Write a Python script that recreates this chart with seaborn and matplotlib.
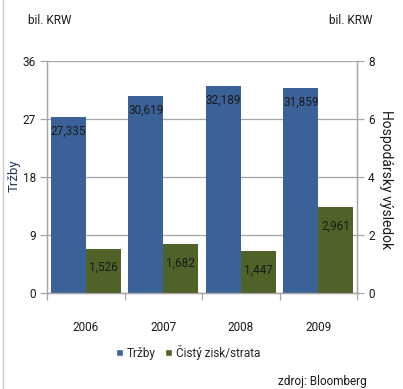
import matplotlib
matplotlib.use("Agg")
import matplotlib.pyplot as plt
import seaborn as sns
import pandas as pd
import numpy as np
from matplotlib.patches import Patch

years = ["2006", "2007", "2008", "2009"]
trzby = [27335, 30619, 32189, 31859]          # bil. KRW
cisty_zisk = [1526, 1682, 1447, 2961]         # bil. KRW
series = ["Tržby", "Čistý zisk/strata"]
left_ticks = [0, 9, 18, 27, 36]
right_ticks = [0, 2, 4, 6, 8]

BLUE = "#3A6198"
GREEN = "#4F6228"
GRID = "#A6A6A6"
TEXT = "#1A1A1A"
FS = 8.5

sns.set_theme(style="white")
plt.rcParams["font.family"] = ["Liberation Sans Narrow", "Roboto", "DejaVu Sans"]
plt.rcParams["font.size"] = FS

df_left = pd.DataFrame({
    "rok": years * 2,
    "séria": [series[0]] * 4 + [series[1]] * 4,
    "hodnota": [v / 1000 for v in trzby] + [np.nan] * 4,
})
df_right = pd.DataFrame({
    "rok": years * 2,
    "séria": [series[0]] * 4 + [series[1]] * 4,
    "hodnota": [np.nan] * 4 + [v / 1000 for v in cisty_zisk],
})

fig = plt.figure(figsize=(4.03, 3.89), dpi=100)
ax = fig.add_axes([0.1166, 0.2468, 0.7694, 0.5964])
ax2 = ax.twinx()

bar_kw = dict(x="rok", y="hodnota", hue="séria", hue_order=series,
              palette=[BLUE, GREEN], width=0.9, gap=0, dodge=True,
              legend=False, errorbar=None, saturation=1, linewidth=0,
              edgecolor="none")
sns.barplot(data=df_left, ax=ax, **bar_kw)
sns.barplot(data=df_right, ax=ax2, **bar_kw)

ax.set_ylim(0, 36)
ax2.set_ylim(0, 8)
ax.set_xlim(-0.5, 3.5)
ax.set_yticks(left_ticks)
ax2.set_yticks(right_ticks)
ax.set_yticklabels([str(t) for t in left_ticks])
ax2.set_yticklabels([str(t) for t in right_ticks])

ax.yaxis.grid(True, color=GRID, linewidth=0.9)
ax.set_axisbelow(True)
ax2.grid(False)
ax2.patch.set_visible(False)

for a in (ax, ax2):
    a.spines["top"].set_visible(False)
    for s in ["left", "right", "bottom"]:
        a.spines[s].set_color(GRID)
        a.spines[s].set_linewidth(0.9)
ax.tick_params(axis="y", which="both", left=True, length=5, width=0.9,
               color=GRID, labelsize=FS, labelcolor=TEXT, pad=3)
ax2.tick_params(axis="y", which="both", right=True, length=5, width=0.9,
                color=GRID, labelsize=FS, labelcolor=TEXT, pad=3)

# category separators on the x axis
ax.set_xticks(range(len(years)))
ax.set_xticklabels(years)
ax.set_xticks([-0.5, 0.5, 1.5, 2.5, 3.5], minor=True)
ax.tick_params(axis="x", which="major", bottom=False, length=0, labelsize=FS,
               labelcolor=TEXT, pad=20)
ax.tick_params(axis="x", which="minor", bottom=True, length=5, width=0.9,
               color=GRID)

ax.set_xlabel("")
ax2.set_xlabel("")
ax.set_ylabel("")
ax2.set_ylabel("")
fig.text(14 / 403, 1 - 176 / 389, "Tržby", color="#1F3864", fontsize=9.5,
         rotation=90, ha="center", va="center")
fig.text(386 / 403, 1 - 180 / 389, "Hospodársky výsledok", color=TEXT,
         fontsize=10, rotation=-90, ha="center", va="center")

# value labels
for bar, v in zip([p for p in ax.patches if p.get_height() > 0], trzby):
    ax.annotate(f"{v:,}", (bar.get_x() + bar.get_width() / 2, bar.get_height()),
                xytext=(0, -6), textcoords="offset points", ha="center",
                va="top", fontsize=FS, color=TEXT)
for bar, v in zip([p for p in ax2.patches if p.get_height() > 0], cisty_zisk):
    ax2.annotate(f"{v:,}", (bar.get_x() + bar.get_width() / 2, bar.get_height()),
                 xytext=(0, -9), textcoords="offset points", ha="center",
                 va="top", fontsize=FS, color=TEXT)

fig.text(28 / 403, 1 - 21 / 389, "bil. KRW", fontsize=FS, color=TEXT,
         ha="left", va="center")
fig.text(372 / 403, 1 - 21 / 389, "bil. KRW", fontsize=FS, color=TEXT,
         ha="right", va="center")

handles = [Patch(facecolor=BLUE), Patch(facecolor=GREEN)]
fig.legend(handles, series, loc="center", bbox_to_anchor=(188 / 403, 1 - 352 / 389),
           ncol=2, frameon=False, fontsize=FS, handlelength=0.6,
           handleheight=0.6, handletextpad=0.3, columnspacing=0.8)

fig.text(322 / 403, 1 - 382 / 389, "zdroj: Bloomberg", fontsize=FS,
         color=TEXT, ha="center", va="center")

# thin frame line on the left edge
fig.add_artist(plt.Line2D([2.5 / 403, 2.5 / 403], [0, 1], color="#C8C8C8",
                          linewidth=1.0, transform=fig.transFigure))

fig.savefig("out.png", dpi=100, facecolor="white")
